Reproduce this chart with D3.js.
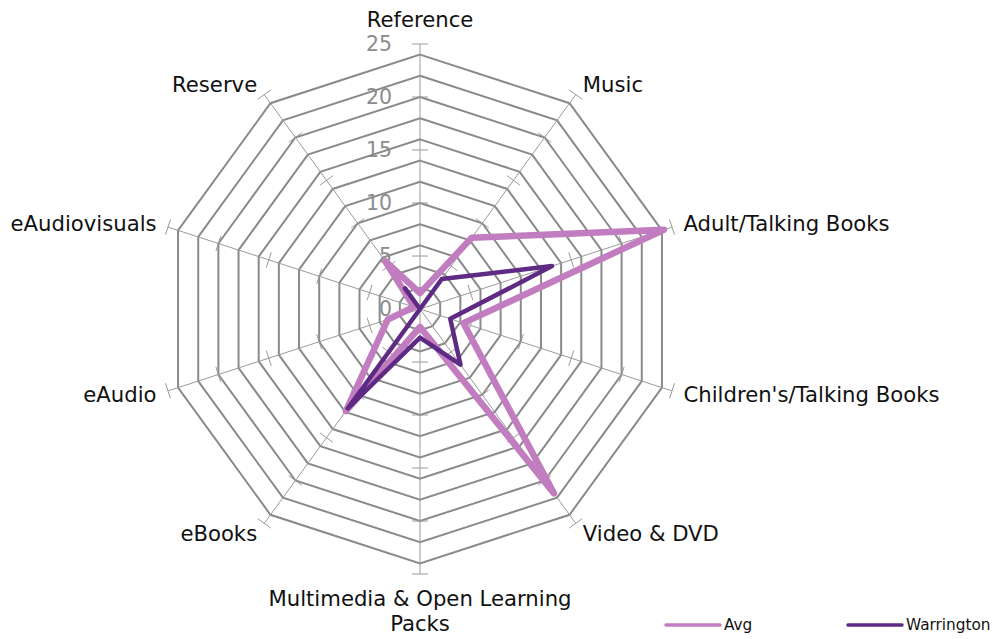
<!DOCTYPE html>
<html>
<head>
<meta charset="utf-8">
<script src="https://cdn.jsdelivr.net/npm/d3@7"></script>
<style>
  html, body { margin: 0; padding: 0; background: #fff; }
  svg { display: block; font-family: "DejaVu Sans", Verdana, sans-serif; }
</style>
</head>
<body>
<svg id="chart" width="1000" height="639"></svg>
<script>
const categories = ["Reference", "Music", "Adult/Talking Books", "Children's/Talking Books", "Video & DVD",
  "Multimedia & Open Learning Packs", "eBooks", "eAudio", "eAudiovisuals", "Reserve"];
const avgValues = [1.5, 8.3, 24.2, 4.3, 21.5, 1.7, 11.9, 3.2, 0.6, 5.6];
const warringtonValues = [0, 3.5, 13.1, 3.0, 6.5, 2.7, 11.6, 0, 0, 2.4];
const tickValues = [0, 5, 10, 15, 20, 25];
const gridValues = [2, 4, 6, 8, 10, 12, 14, 16, 18, 20, 22, 24];
const seriesNames = ["Avg", "Warrington"];
const seriesColors = ["#C17DBF", "#5E2A84"];

const svg = d3.select("#chart");
const cx = 420, cy = 309, R = 265;
const r = d3.scaleLinear().domain([0, 25]).range([0, R]);
const n = categories.length;
const angle = d3.scaleLinear().domain([0, n]).range([0, 2 * Math.PI]);

const g = svg.append("g").attr("transform", `translate(${cx},${cy})`);

// rings
const ring = d3.lineRadial().angle((d, i) => angle(i)).radius(d => r(d)).curve(d3.curveLinearClosed);
g.append("g").selectAll("path").data(gridValues).join("path")
  .attr("d", v => ring(categories.map(() => v)))
  .attr("fill", "none").attr("stroke", "#8a8a8a").attr("stroke-width", 2);

// axes
const ax = g.append("g");
categories.forEach((c, i) => {
  const a = angle(i);
  const sx = Math.sin(a), sy = -Math.cos(a);
  ax.append("line").attr("x1", 0).attr("y1", 0).attr("x2", r(25) * sx).attr("y2", r(25) * sy)
    .attr("stroke", "#9a9a9a").attr("stroke-width", 1);
  tickValues.filter(t => t > 0).forEach(t => {
    const px = r(t) * sx, py = r(t) * sy;
    const nx = -sy * 8, ny = sx * 8;
    ax.append("line").attr("x1", px - nx).attr("y1", py - ny).attr("x2", px + nx).attr("y2", py + ny)
      .attr("stroke", "#9a9a9a").attr("stroke-width", 1);
  });
});

// tick labels
g.append("g").selectAll("text").data(tickValues).join("text")
  .attr("x", -28).attr("y", d => -r(d))
  .attr("text-anchor", "end").attr("dominant-baseline", "central")
  .attr("fill", "#8c8c8c").attr("font-size", 20.5)
  .text(d => d);

// category labels
const lab = g.append("g");
categories.forEach((c, i) => {
  const a = angle(i);
  const sx = Math.sin(a), sy = -Math.cos(a);
  const x = (R + 12) * sx, y = (R + 12) * sy;
  const anchor = sx > 0.01 ? "start" : (sx < -0.01 ? "end" : "middle");
  const t = lab.append("text").attr("text-anchor", anchor).attr("font-size", 21.2).attr("fill", "#111");
  if (anchor === "middle" && sy < 0) {
    t.attr("x", x).attr("y", y - 5).text(c);
  } else if (anchor === "middle") {
    const parts = c === "Multimedia & Open Learning Packs" ? ["Multimedia & Open Learning", "Packs"] : [c];
    parts.forEach((p, k) => t.append("tspan").attr("x", x).attr("y", y + 20 + k * 25).text(p));
  } else {
    t.attr("x", x).attr("y", y).attr("dominant-baseline", "central").text(c);
  }
});

// series
const line = d3.lineRadial().angle((d, i) => angle(i)).radius(d => r(d)).curve(d3.curveLinearClosed);
const series = [avgValues, warringtonValues];
const widths = [6.5, 4.5];
series.forEach((vals, k) => {
  g.append("path").attr("d", line(vals)).attr("fill", "none")
    .attr("stroke", seriesColors[k]).attr("stroke-width", widths[k])
    .attr("stroke-linejoin", "round").attr("stroke-linecap", "round");
});

// legend
const legX = [666, 848];
seriesNames.forEach((s, k) => {
  svg.append("line").attr("x1", legX[k]).attr("x2", legX[k] + 54).attr("y1", 625).attr("y2", 625)
    .attr("stroke", seriesColors[k]).attr("stroke-width", 3.5).attr("stroke-linecap", "round");
  svg.append("text").attr("x", legX[k] + 58).attr("y", 625).attr("dominant-baseline", "central")
    .attr("font-size", 15.3).attr("fill", "#111").text(s);
});
</script>
</body>
</html>
